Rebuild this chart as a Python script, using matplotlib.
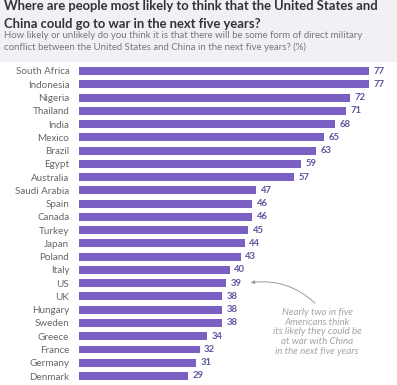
import matplotlib
matplotlib.use("Agg")
import matplotlib.pyplot as plt
from matplotlib.patches import Rectangle, FancyArrowPatch

countries = ["South Africa", "Indonesia", "Nigeria", "Thailand", "India", "Mexico",
             "Brazil", "Egypt", "Australia", "Saudi Arabia", "Spain", "Canada",
             "Turkey", "Japan", "Poland", "Italy", "US", "UK", "Hungary", "Sweden",
             "Greece", "France", "Germany", "Denmark"]
values = [77, 77, 72, 71, 68, 65, 63, 59, 57, 47, 46, 46, 45, 44, 43, 40, 39,
          38, 38, 38, 34, 32, 31, 29]

W, H = 397, 385
fig = plt.figure(figsize=(W / 100, H / 100), dpi=100)
fig.patch.set_facecolor("white")

# header band
fig.patches.append(Rectangle((0, 1 - 62 / H), 1, 62 / H, transform=fig.transFigure,
                             facecolor="#f1f0f5", edgecolor="none", zorder=0))

n = len(countries)
row = (376 - 71) / (n - 1)
top_px = 71 - row / 2
bot_px = top_px + n * row
left_px = 79
ax = fig.add_axes([left_px / W, 1 - bot_px / H, (W - left_px) / W, (bot_px - top_px) / H])
ax.set_facecolor("none")
px_per_unit = 290 / 77
ax.set_xlim(0, (W - left_px) / px_per_unit)
ax.set_ylim(n - 0.5, -0.5)

bar_color = "#7a60c2"
ypos = list(range(n))
ax.barh(ypos, values, height=0.6, color=bar_color)
for y, v in zip(ypos, values):
    ax.text(v + 1.2, y, str(v), va="center", ha="left", fontsize=6.8,
            color="#5f54a0", fontweight="bold", family="Lato")
ax.set_yticks(ypos)
ax.set_yticklabels(countries, fontsize=7.1, color="#666666", family="Lato")
ax.tick_params(axis="y", length=0, pad=7)
ax.set_xticks([])
for s in ax.spines.values():
    s.set_visible(False)

# titles
fig.text(4 / W, 1 - 10.5 / H, "Where are people most likely to think that the United States and",
         fontsize=9.4, fontweight="bold", color="#333333", va="baseline", ha="left", family="Lato")
fig.text(4 / W, 1 - 27.5 / H, "China could go to war in the next five years?",
         fontsize=9.4, fontweight="bold", color="#333333", va="baseline", ha="left", family="Lato")
fig.text(4 / W, 1 - 38.5 / H,
         "How likely or unlikely do you think it is that there will be some form of direct military",
         fontsize=6.9, color="#777777", va="baseline", ha="left", family="Lato")
fig.text(4 / W, 1 - 50 / H,
         "conflict between the United States and China in the next five years? (%)",
         fontsize=6.9, color="#777777", va="baseline", ha="left", family="Lato")

# annotation
note = "Nearly two in five\nAmericans think\nits likely they could be\nat war with China\nin the next five years"
fig.text(317 / W, 1 - 332 / H, note, fontsize=7.0, style="italic",
         color="#a3a3a3", ha="center", va="center", linespacing=1.08, family="Lato")
fig.patches.append(FancyArrowPatch(
    (317 / W, 1 - 305 / H), (248 / W, 1 - 283 / H), transform=fig.transFigure,
    connectionstyle="arc3,rad=0.25", arrowstyle="-|>", mutation_scale=5,
    color="#999999", lw=0.7))

fig.savefig("out.png", dpi=100)
